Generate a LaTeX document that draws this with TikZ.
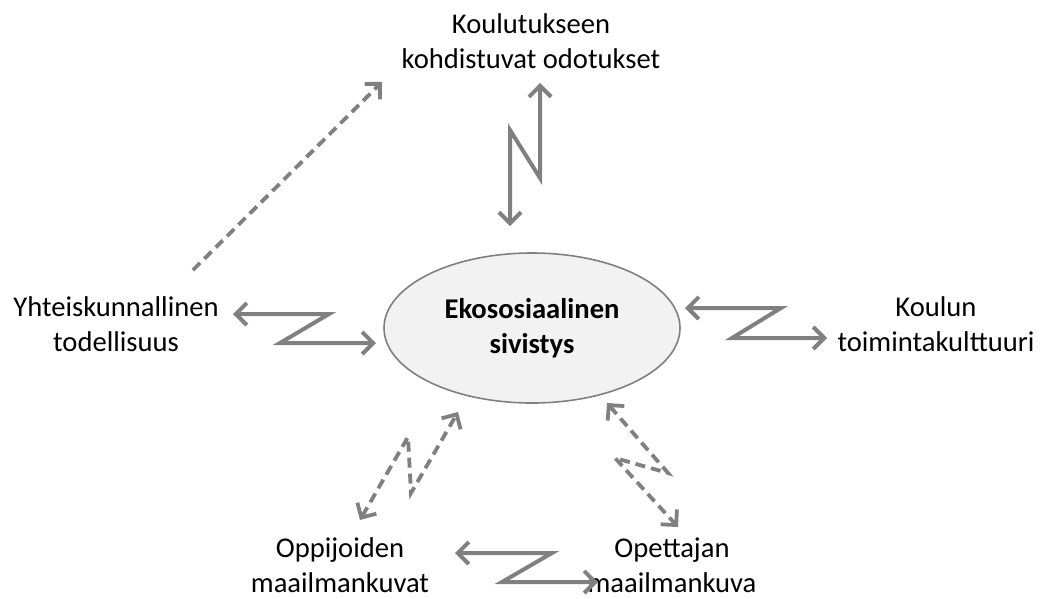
\documentclass[tikz,border=0pt]{standalone}
\usepackage{fontspec}
\setmainfont{Carlito}
\usepackage{tikz}
\usetikzlibrary{arrows.meta,shapes.geometric}

\definecolor{arrgray}{RGB}{128,128,128}

\begin{document}
\begin{tikzpicture}[x=1pt, y=-1pt,
  lbl/.style={align=center, font=\fontsize{28.6}{35}\selectfont, inner sep=0pt},
  zz/.style={draw=arrgray, line width=4pt, {Straight Barb[length=11pt,width=22pt]}-{Straight Barb[length=11pt,width=22pt]}},
  dzz/.style={zz, line width=3.8pt, dash pattern=on 10pt off 6pt}]

  \useasboundingbox (0,0) rectangle (1042,598);

  % Centre ellipse
  \node[ellipse, draw=arrgray, line width=1.6pt, fill=black!5, minimum width=296pt, minimum height=150pt,
        lbl, font=\fontsize{28.6}{35}\selectfont\bfseries] (eko) at (532,328) {Ekososiaalinen\\sivistys};

  % Surrounding texts
  \node[lbl] (odot) at (531,41) {Koulutukseen\\kohdistuvat odotukset};
  \node[lbl] (yht) at (116,324) {Yhteiskunnallinen\\todellisuus};
  \node[lbl] (kult) at (936,324) {Koulun\\toimintakulttuuri};
  \node[lbl] (oppi) at (340,565) {Oppijoiden\\maailmankuvat};
  \node[lbl] (opet) at (672,565) {Opettajan\\maailmankuva};

  % Free ends of the zigzag arrows
  \coordinate (top) at (510,226);
  \coordinate (lft) at (233,314);
  \coordinate (rgt) at (685,308);
  \coordinate (bot) at (455,553);
  \coordinate (dll) at (360,520);
  \coordinate (dlr) at (607,403);
  \coordinate (dtl) at (193,270);
  \coordinate (dtr) at (382,82);

  % Solid zigzags
  \draw[zz] (top) -- ++(0,-96) -- ++(30,48) -- ++(0,-95);
  \draw[zz] (lft) -- ++(96,0) -- ++(-49,29) -- ++(96,0);
  \draw[zz] (rgt) -- ++(96,0) -- ++(-49,30) -- ++(95,0);
  \draw[zz] (bot) -- ++(97,0) -- ++(-50,29) -- ++(96,0);

  % Dashed zigzags
  \draw[dzz] (dll) -- ++(48,-83) -- ++(3,56) -- ++(47,-81);
  \draw[dzz] (dlr) -- ++(61,70) -- ++(-53,-15) -- ++(63,69);
  \draw[dzz, -{Straight Barb[length=11pt,width=22pt]}] (dtl) -- (dtr);

\end{tikzpicture}
\end{document}
